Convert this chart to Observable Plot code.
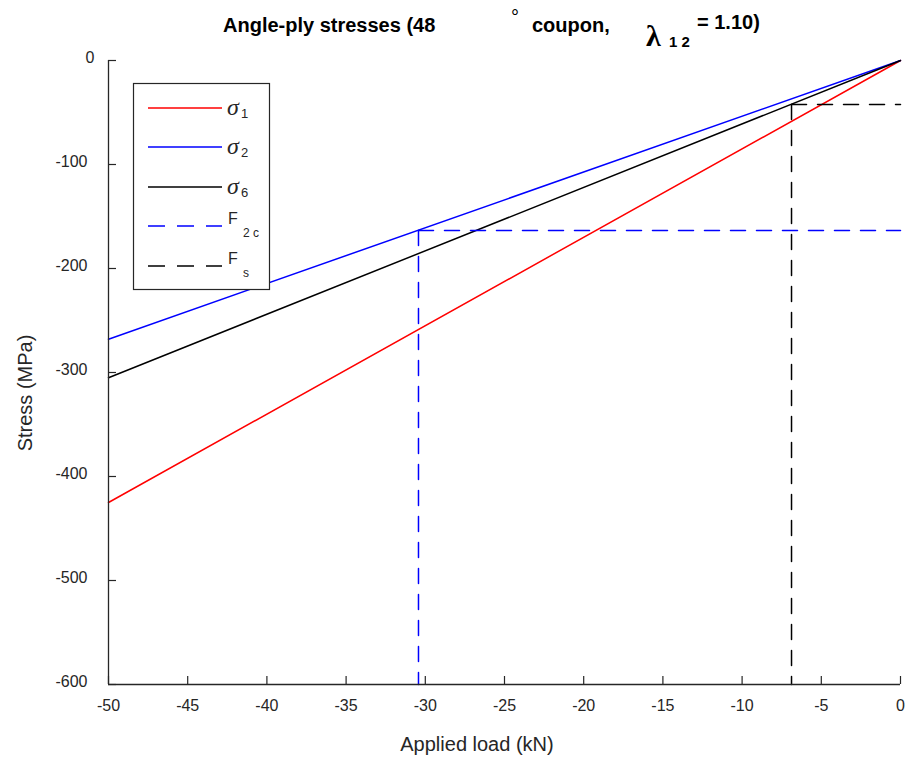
<!DOCTYPE html>
<html><head><meta charset="utf-8">
<script src="https://cdn.jsdelivr.net/npm/d3@7"></script>
<script src="https://cdn.jsdelivr.net/npm/@observablehq/plot@0.6"></script>
<style>body{margin:0;background:#fff;}</style>
</head><body><div id="chart"></div>
<script>
// ---- data ----
const loadEnds = [-50, 0];          // applied load (kN)
const sigma1 = [-425, 0];           // MPa
const sigma2 = [-268, 0];
const sigma6 = [-305, 0];
const F2c = -163.5, F2cLoad = -30.43;
const Fs = -42.3, FsLoad = -6.88;
const xTicks = [-50, -45, -40, -35, -30, -25, -20, -15, -10, -5, 0];
const yTicks = [0, -100, -200, -300, -400, -500, -600];
const seriesNames = ["σ1", "σ2", "σ6"];
const seriesColors = ["#ff0000", "#0000ff", "#000000"];

const rows = [];
[sigma1, sigma2, sigma6].forEach((vals, i) => vals.forEach((v, j) => rows.push({series: seriesNames[i], load: loadEnds[j], stress: v})));
const f2cV = [{load: F2cLoad, stress: F2c}, {load: F2cLoad, stress: -600}];
const f2cH = [{load: F2cLoad, stress: F2c}, {load: 0, stress: F2c}];
const fsV = [{load: FsLoad, stress: Fs}, {load: FsLoad, stress: -600}];
const fsH = [{load: FsLoad, stress: Fs}, {load: 0, stress: Fs}];

const W = 906, H = 762, mL = 108, mR = 6, mT = 60, mB = 78;
const fw = W - mL - mR, fh = H - mT - mB;
const axisColor = "#262626";
const dash = "15,11";
const legendDash = "17,12";
const ff = "'Liberation Sans', Arial, Helvetica, sans-serif";
const serif = "'Liberation Serif', 'Times New Roman', serif";

const svg = Plot.plot({
  width: W, height: H,
  marginLeft: mL, marginRight: mR, marginTop: mT, marginBottom: mB,
  style: {fontFamily: ff, fontSize: "16px", color: axisColor, background: "#fff"},
  x: {domain: [-50, 0], label: null},
  y: {domain: [-600, 0], label: null},
  color: {domain: seriesNames, range: seriesColors},
  marks: [
    Plot.line(rows, {x: "load", y: "stress", z: "series", stroke: "series", strokeWidth: 1.5}),
    Plot.line(f2cV, {x: "load", y: "stress", stroke: "#0000ff", strokeWidth: 1.5, strokeDasharray: dash}),
    Plot.line(f2cH, {x: "load", y: "stress", stroke: "#0000ff", strokeWidth: 1.5, strokeDasharray: dash}),
    Plot.line(fsV, {x: "load", y: "stress", stroke: "#000", strokeWidth: 1.5, strokeDasharray: dash}),
    Plot.line(fsH, {x: "load", y: "stress", stroke: "#000", strokeWidth: 1.5, strokeDasharray: dash}),
    Plot.ruleX(xTicks, {x: d => d, insetTop: fh - 8, stroke: axisColor, strokeWidth: 1.2}),
    Plot.ruleY(yTicks, {y: d => d, insetRight: fw - 8, stroke: axisColor, strokeWidth: 1.2}),
    Plot.ruleX([-50], {stroke: axisColor, strokeWidth: 1.3}),
    Plot.ruleY([-600], {stroke: axisColor, strokeWidth: 1.3}),
    Plot.axisX({ticks: xTicks, tickSize: 0, tickPadding: 15, tickFormat: d => String(d), fontSize: 16, fill: axisColor}),
    Plot.axisY({ticks: yTicks.filter(d => d !== 0), tickSize: 0, tickPadding: 21, dy: -3, tickFormat: d => String(d), fontSize: 16, fill: axisColor}),
    Plot.axisY({ticks: yTicks.filter(d => d === 0), tickSize: 0, tickPadding: 14, dy: -3, tickFormat: d => String(d), fontSize: 16, fill: axisColor})
  ]
});

const s = d3.select(svg);
// axis labels
s.append("text").attr("x", 477).attr("y", 751).attr("text-anchor", "middle")
  .attr("font-family", ff).attr("font-size", 20).attr("fill", axisColor).text("Applied load (kN)");
s.append("text").attr("transform", "translate(32,393) rotate(-90)").attr("text-anchor", "middle")
  .attr("font-family", ff).attr("font-size", 20).attr("fill", axisColor).text("Stress (MPa)");

// title (MATLAB tex-style pieces)
const t = s.append("g").attr("font-family", ff).attr("font-weight", "bold").attr("fill", "#000").attr("text-anchor", "start");
t.append("text").attr("x", 223).attr("y", 32).attr("font-size", 20).text("Angle-ply stresses (48");
t.append("text").attr("x", 511).attr("y", 24).attr("font-size", 20).attr("font-weight", "normal").text("°");
t.append("text").attr("x", 532).attr("y", 32).attr("font-size", 20).text("coupon,");
t.append("text").attr("x", 646).attr("y", 46).attr("font-size", 30).attr("font-family", serif).text("λ");
t.append("text").attr("x", 669).attr("y", 47).attr("font-size", 15).text("1 2");
t.append("text").attr("x", 697).attr("y", 29).attr("font-size", 20).text("= 1.10)");

// legend
const lg = s.append("g").attr("text-anchor", "start");
lg.append("rect").attr("x", 133.5).attr("y", 83.5).attr("width", 136).attr("height", 206)
  .attr("fill", "#fff").attr("stroke", axisColor).attr("stroke-width", 1.2);
const items = [
  {c: "#ff0000", d: null, main: "σ", sub: "1", y: 108},
  {c: "#0000ff", d: null, main: "σ", sub: "2", y: 147},
  {c: "#000000", d: null, main: "σ", sub: "6", y: 187},
  {c: "#0000ff", d: legendDash, main: "F", sub: "2 c", y: 226},
  {c: "#000000", d: legendDash, main: "F", sub: "s", y: 266}
];
items.forEach(it => {
  const ln = lg.append("line").attr("x1", 148).attr("x2", 222).attr("y1", it.y).attr("y2", it.y)
    .attr("stroke", it.c).attr("stroke-width", 1.5);
  if (it.d) ln.attr("stroke-dasharray", it.d);
  if (it.main === "σ") {
    lg.append("text").attr("x", 227).attr("y", it.y + 7).attr("font-family", serif)
      .attr("font-style", "italic").attr("font-size", 24).attr("fill", axisColor).text("σ");
    lg.append("text").attr("x", 241).attr("y", it.y + 10).attr("font-family", ff)
      .attr("font-size", 13).attr("fill", axisColor).text(it.sub);
  } else {
    lg.append("text").attr("x", 228).attr("y", it.y - 2).attr("font-family", ff)
      .attr("font-size", 16).attr("fill", axisColor).text("F");
    lg.append("text").attr("x", 243).attr("y", it.y + 11).attr("font-family", ff)
      .attr("font-size", 12).attr("fill", axisColor).text(it.sub);
  }
});

document.getElementById("chart").appendChild(svg);
</script>
</body></html>
